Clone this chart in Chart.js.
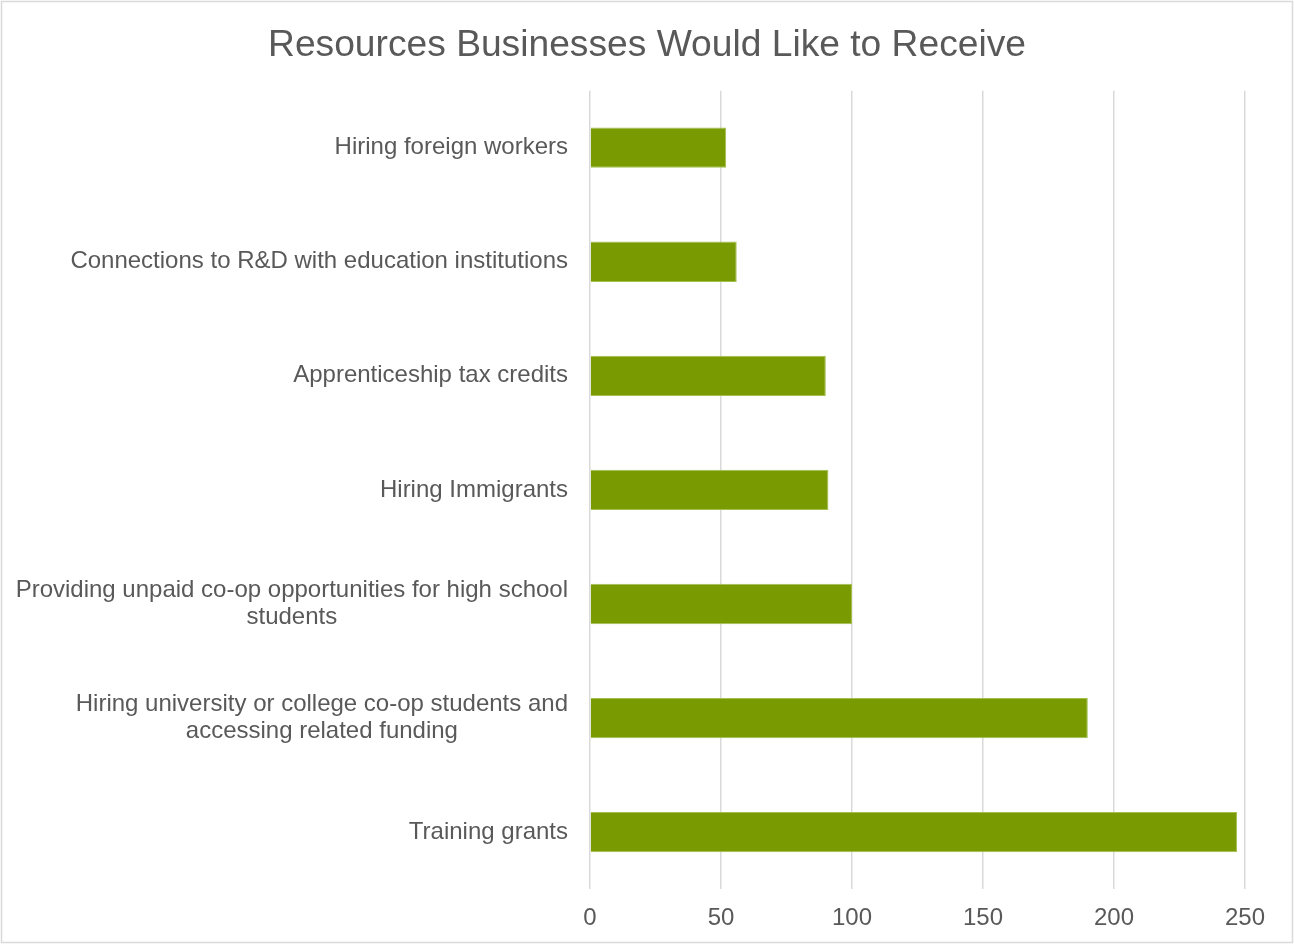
<!DOCTYPE html>
<html>
<head>
<meta charset="utf-8">
<script src="https://cdn.jsdelivr.net/npm/chart.js@4/dist/chart.umd.min.js"></script>
<style>
  html, body { margin: 0; padding: 0; background: #fff; }
  #wrap { width: 1294px; height: 944px; }
</style>
</head>
<body>
<div id="wrap"><canvas id="resourcesChart"></canvas></div>
<script>
// data
const categories = [
  ['Hiring foreign workers'],
  ['Connections to R&D with education institutions'],
  ['Apprenticeship tax credits'],
  ['Hiring Immigrants'],
  ['Providing unpaid co-op opportunities for high school', 'students'],
  ['Hiring university or college co-op students and', 'accessing related funding'],
  ['Training grants']
];
const responses = [52, 56, 90, 91, 100, 190, 247];
const xTicks = [0, 50, 100, 150, 200, 250];

const TEXT = '#595959';
const GRID = '#d9d9d9';
const FONT = '"Liberation Sans", Arial, sans-serif';
const LABEL_SIZE = 24;

const byId = (id) => document.getElementById(id);

// outer frame like the exported chart
const framePlugin = {
  id: 'frame',
  beforeDraw(chart) {
    const { ctx, width, height } = chart;
    ctx.save();
    ctx.fillStyle = '#fff';
    ctx.fillRect(0, 0, width, height);
    ctx.strokeStyle = GRID;
    ctx.lineWidth = 1.5;
    ctx.strokeRect(1.5, 1.5, width - 3, height - 3);
    ctx.restore();
  }
};

// category labels: block right aligned, lines centred inside the block
const catLabels = {
  id: 'catLabels',
  afterDraw(chart) {
    const { ctx } = chart;
    const y = chart.scales.y;
    const right = chart.chartArea.left - 22;
    const lineH = 27;
    ctx.save();
    ctx.font = `${LABEL_SIZE}px ${FONT}`;
    ctx.fillStyle = TEXT;
    ctx.textAlign = 'center';
    ctx.textBaseline = 'middle';
    chart.data.labels.forEach((lines, i) => {
      const cy = y.getPixelForValue(i);
      const w = Math.max(...lines.map(l => ctx.measureText(l).width));
      const cx = right - w / 2;
      const top = cy - (lines.length - 1) * lineH / 2;
      lines.forEach((l, j) => ctx.fillText(l, cx, top + j * lineH));
    });
    ctx.restore();
  }
};

new Chart(byId('resourcesChart').getContext('2d'), {
  type: 'bar',
  data: {
    labels: categories,
    datasets: [{
      label: 'Responses',
      data: responses,
      backgroundColor: '#7a9a01',
      borderColor: '#a3bf4c',
      borderWidth: 1,
      barPercentage: 0.353,
      categoryPercentage: 1
    }]
  },
  options: {
    indexAxis: 'y',
    responsive: true,
    maintainAspectRatio: false,
    animation: false,
    layout: { padding: { left: 49, right: 49, top: 0, bottom: -4 } },
    scales: {
      x: {
        min: 0, max: 250,
        afterBuildTicks: (s) => { s.ticks = xTicks.map(v => ({ value: v })); },
        grid: { color: GRID, lineWidth: 1.5, drawTicks: false },
        border: { display: false },
        ticks: { color: TEXT, padding: 15, font: { family: FONT, size: LABEL_SIZE } }
      },
      y: {
        grid: { display: false, drawTicks: false },
        border: { display: false },
        ticks: { display: false },
        afterFit: (s) => { s.width = 541; }
      }
    },
    plugins: {
      legend: { display: false },
      tooltip: { enabled: false },
      title: {
        display: true,
        text: 'Resources Businesses Would Like to Receive',
        color: TEXT,
        font: { family: FONT, size: 37.2, weight: 'normal', lineHeight: 1.2 },
        padding: { top: 23, bottom: 23 }
      }
    }
  },
  plugins: [framePlugin, catLabels]
});
</script>
</body>
</html>
